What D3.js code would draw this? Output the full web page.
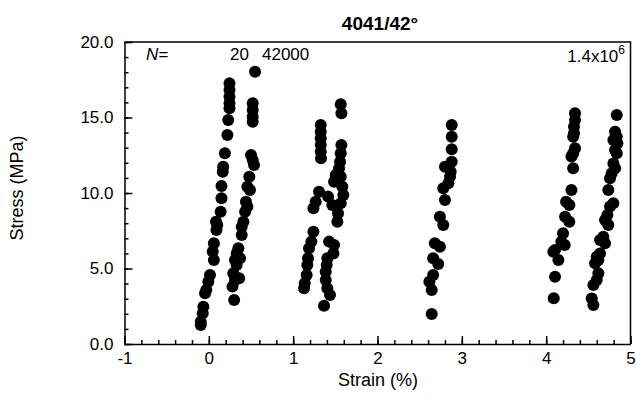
<!DOCTYPE html>
<html>
<head>
<meta charset="utf-8">
<script src="https://cdn.jsdelivr.net/npm/d3@7"></script>
<style>
  body { margin: 0; background: #fff; }
  text { font-family: "Liberation Sans", Arial, Helvetica, sans-serif; fill: #000; }
  .axis path, .axis line { stroke: #000; stroke-width: 1.5; }
  .axis text { font-size: 17px; }
</style>
</head>
<body>
<div class="chart"></div>
<script>
// data: [strain %, stress MPa]
var loopA = [[0.245,17.26],[0.245,16.82],[0.245,16.38],[0.245,15.94],[0.245,15.61],[0.23,14.83],
  [0.22,13.84],[0.19,12.63],[0.17,11.74],[0.165,11.41],[0.15,10.46],[0.15,9.65],[0.14,8.76],
  [0.085,8.1],[0.10,7.88],[0.09,7.55],[0.06,6.67],[0.046,6.12],[0.06,5.56],[0.014,4.57],
  [-0.006,4.13],[-0.03,3.58],[-0.045,3.36],[-0.065,2.47],[-0.072,2.03],[-0.096,1.48],[-0.096,1.26]];

var loopB = [[0.548,18.03],[0.52,15.94],[0.52,15.5],[0.52,15.05],[0.52,14.72],[0.50,12.52],
  [0.52,12.19],[0.536,11.85],[0.48,11.08],[0.457,10.42],[0.488,10.2],[0.44,9.42],[0.457,9.09],
  [0.43,8.76],[0.41,8.1],[0.39,7.77],[0.39,7.22],[0.35,6.34],[0.33,6.0],[0.31,5.56],[0.37,5.68],
  [0.33,5.23],[0.29,4.68],[0.36,4.35],[0.31,4.24],[0.28,3.8],[0.30,2.91]];

var loopC = [[1.564,15.87],[1.572,15.28],[1.327,14.5],[1.327,14.06],[1.327,13.62],[1.327,13.18],
  [1.327,12.74],[1.33,12.3],[1.572,13.18],[1.564,12.63],[1.556,12.07],[1.544,11.64],[1.505,11.19],
  [1.564,11.08],[1.485,10.75],[1.583,10.42],[1.595,9.87],[1.564,9.32],[1.532,8.66],[1.524,8.1],
  [1.307,10.09],[1.267,9.42],[1.24,8.99],[1.414,9.76],[1.464,9.2],[1.24,7.44],[1.216,6.78],
  [1.188,6.34],[1.176,5.68],[1.168,5.23],[1.16,4.57],[1.137,4.02],[1.129,3.69],[1.426,6.78],
  [1.485,6.56],[1.477,6.0],[1.405,5.68],[1.398,5.23],[1.386,4.79],[1.386,4.24],[1.405,3.69],
  [1.437,3.25],[1.366,2.54]];

var loopD = [[2.88,14.5],[2.88,13.73],[2.88,12.89],[2.88,12.07],[2.80,11.74],[2.868,11.41],
  [2.86,11.08],[2.84,10.64],[2.78,10.31],[2.80,9.54],[2.74,8.43],[2.78,7.88],[2.68,6.67],
  [2.74,6.44],[2.66,5.68],[2.72,5.3],[2.66,4.57],[2.615,4.13],[2.643,3.58],[2.643,1.99]];

var loopE = [[4.342,15.28],[4.342,14.83],[4.33,14.39],[4.33,13.95],[4.32,13.73],[4.342,12.96],
  [4.32,12.63],[4.30,12.41],[4.32,11.64],[4.30,10.2],[4.236,9.42],[4.275,9.2],[4.224,8.43],
  [4.275,8.1],[4.20,7.33],[4.18,6.78],[4.22,6.56],[4.105,6.23],[4.085,6.11],[4.145,5.56],
  [4.105,4.46],[4.09,3.03]];

var loopF = [[4.837,15.17],[4.817,14.06],[4.837,13.73],[4.797,13.51],[4.844,13.29],[4.817,12.85],
  [4.837,12.63],[4.797,11.96],[4.817,11.64],[4.777,11.3],[4.757,10.97],[4.737,10.2],[4.797,9.32],
  [4.757,9.1],[4.726,8.54],[4.698,8.21],[4.737,7.88],[4.678,7.1],[4.639,6.89],[4.698,6.67],
  [4.639,6.0],[4.6,5.78],[4.619,5.56],[4.58,5.34],[4.619,4.68],[4.6,4.24],[4.56,3.91],
  [4.54,3.02],[4.56,2.58]];

var xTicks = [-1, 0, 1, 2, 3, 4, 5];
var yTicks = [0, 5, 10, 15, 20];

var svgWidth = 636;
var svgHeight = 399;
var plot = { left: 124.5, right: 630.5, top: 42, bottom: 344 };

var svg = d3.select(".chart")
  .append("svg")
  .attr("width", svgWidth)
  .attr("height", svgHeight);

// scales
var xScale = d3.scaleLinear().domain([-1, 5]).range([plot.left, plot.right]);
var yScale = d3.scaleLinear().domain([0, 20]).range([plot.bottom, plot.top]);

// minor ticks first, then major ticks with labels (ticks point inward)
var xMinor = d3.range(-1, 5.01, 0.2);
var yMinor = d3.range(0, 20.01, 1);

svg.append("g")
  .attr("class", "axis")
  .attr("transform", `translate(0, ${plot.bottom})`)
  .call(d3.axisBottom(xScale).tickValues(xMinor).tickSize(-4).tickFormat(""))
  .select(".domain").remove();

svg.append("g")
  .attr("class", "axis")
  .attr("transform", `translate(${plot.left}, 0)`)
  .call(d3.axisLeft(yScale).tickValues(yMinor).tickSize(-4).tickFormat(""))
  .select(".domain").remove();

svg.append("g")
  .attr("class", "axis")
  .attr("transform", `translate(0, ${plot.bottom})`)
  .call(d3.axisBottom(xScale).tickValues(xTicks).tickSizeInner(-8).tickSizeOuter(0)
    .tickPadding(8).tickFormat(function(d) { return String(d); }));

svg.append("g")
  .attr("class", "axis")
  .attr("transform", `translate(${plot.left}, 0)`)
  .call(d3.axisLeft(yScale).tickValues(yTicks).tickSizeInner(-8).tickSizeOuter(0)
    .tickPadding(11).tickFormat(function(d) { return d.toFixed(1); }));

// top and right frame
svg.append("path")
  .attr("d", `M${plot.left},${plot.top}H${plot.right}V${plot.bottom}`)
  .attr("fill", "none")
  .attr("stroke", "#000")
  .attr("stroke-width", 1.5);

// points
var loops = [loopA, loopB, loopC, loopD, loopE, loopF];
svg.append("g")
  .selectAll("circle")
  .data(d3.merge(loops))
  .enter()
  .append("circle")
  .attr("cx", function(d) { return xScale(d[0]); })
  .attr("cy", function(d) { return yScale(d[1]); })
  .attr("r", 6)
  .attr("fill", "#000");

// title and labels
svg.append("text")
  .attr("x", 380).attr("y", 30)
  .attr("text-anchor", "middle")
  .style("font-size", "19px").style("font-weight", "bold")
  .text("4041/42°");

svg.append("text")
  .attr("transform", "translate(23, 188) rotate(-90)")
  .attr("text-anchor", "middle")
  .style("font-size", "18px")
  .text("Stress (MPa)");

svg.append("text")
  .attr("x", 378).attr("y", 386)
  .attr("text-anchor", "middle")
  .style("font-size", "18px")
  .text("Strain (%)");

// cycle annotations
var note = svg.append("g").style("font-size", "17px");
note.append("text").attr("x", 146).attr("y", 60).style("font-style", "italic").text("N=");
note.append("text").attr("x", 230).attr("y", 60).text("20");
note.append("text").attr("x", 262).attr("y", 60).text("42000");
var big = note.append("text").attr("x", 625).attr("y", 62).attr("text-anchor", "end");
big.append("tspan").text("1.4x10");
big.append("tspan").attr("dy", -8).style("font-size", "12px").text("6");
</script>
</body>
</html>
